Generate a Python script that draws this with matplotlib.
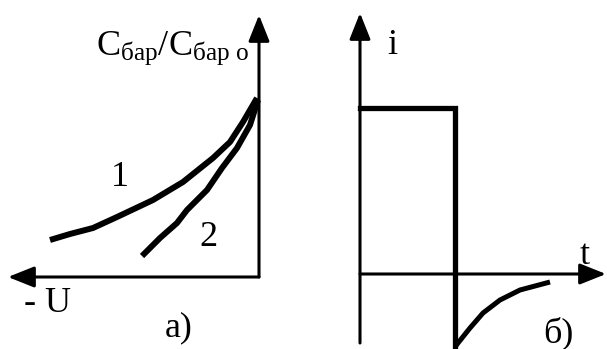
import matplotlib.pyplot as plt
import numpy as np

plt.rcParams['font.family'] = ['Liberation Serif', 'DejaVu Serif']
plt.rcParams['mathtext.fontset'] = 'custom'
plt.rcParams['mathtext.rm'] = 'Liberation Serif'
plt.rcParams['mathtext.it'] = 'Liberation Serif:italic'

# а) barrier capacitance vs reverse voltage, two junction types
u_1 = [-2.09, -1.89, -1.66, -1.42, -1.06, -0.76, -0.46, -0.29, -0.16, -0.02]
c_1 = [0.37, 0.43, 0.49, 0.60, 0.77, 0.95, 1.19, 1.35, 1.55, 1.79]
u_2 = [-1.17, -0.99, -0.82, -0.72, -0.52, -0.37, -0.22, -0.09, -0.01]
c_2 = [0.21, 0.39, 0.54, 0.67, 0.87, 1.09, 1.29, 1.52, 1.77]

# б) current through the diode when the voltage is switched
t_pulse = [0.0, 0.95, 0.95]
i_pulse = [1.66, 1.66, -0.73]
t_tail = [0.95, 0.98, 1.10, 1.23, 1.40, 1.60, 1.90]
i_tail = [-0.73, -0.69, -0.54, -0.39, -0.26, -0.16, -0.08]

W, H = 607, 349
fig = plt.figure(figsize=(W / 100, H / 100), dpi=100)

def panel(x0, x1, ox, oy):
    # axes where one unit is 100 px and (0, 0) sits at pixel (ox, oy)
    ax = fig.add_axes([x0 / W, 0, (x1 - x0) / W, 1])
    ax.set_xlim((x0 - ox) / 100, (x1 - ox) / 100)
    ax.set_ylim((oy - H) / 100, oy / 100)
    ax.axis('off')
    return ax

def arrow(ax, start, tip):
    ax.annotate('', xy=tip, xytext=start,
                arrowprops=dict(arrowstyle='-|>,head_length=0.8,head_width=0.32',
                                lw=2.2, color='black', mutation_scale=20,
                                shrinkA=0, shrinkB=0))

fs = 26

# left panel
ax1 = panel(0, 300, 259, 277)
arrow(ax1, (0, 0), (0, 2.62))
arrow(ax1, (0, 0), (-2.51, 0))
ax1.plot(u_1, c_1, color='black', lw=4.3, solid_capstyle='butt',
         solid_joinstyle='round')
ax1.plot(u_2, c_2, color='black', lw=4.3, solid_capstyle='butt',
         solid_joinstyle='round')
ax1.text(-1.63, 2.22, r'C$_{\mathrm{бар}}$/C$_{\mathrm{бар\ o}}$', fontsize=fs,
         ha='left', va='baseline')
ax1.text(-1.39, 0.99, '1', fontsize=fs, ha='center', va='center')
ax1.text(-0.51, 0.40, '2', fontsize=fs, ha='center', va='center')
ax1.text(-2.11, -0.26, '- U', fontsize=fs, ha='center', va='center')
ax1.text(-0.80, -0.51, 'а)', fontsize=fs, ha='center', va='center')

# right panel
ax2 = panel(300, 607, 360, 274)
arrow(ax2, (0, -0.69), (0, 2.61))
arrow(ax2, (0, 0), (2.46, 0))
ax2.plot(t_pulse, i_pulse, color='black', lw=3.8, solid_joinstyle='miter',
         solid_capstyle='projecting')
ax2.plot(t_tail, i_tail, color='black', lw=3.6, solid_capstyle='butt',
         solid_joinstyle='round')
ax2.text(0.32, 2.29, 'i', fontsize=fs, ha='center', va='center')
ax2.text(2.25, 0.19, 't', fontsize=fs, ha='center', va='center')
ax2.text(1.98, -0.59, 'б)', fontsize=fs, ha='center', va='center')

fig.savefig('out.png', dpi=100)
